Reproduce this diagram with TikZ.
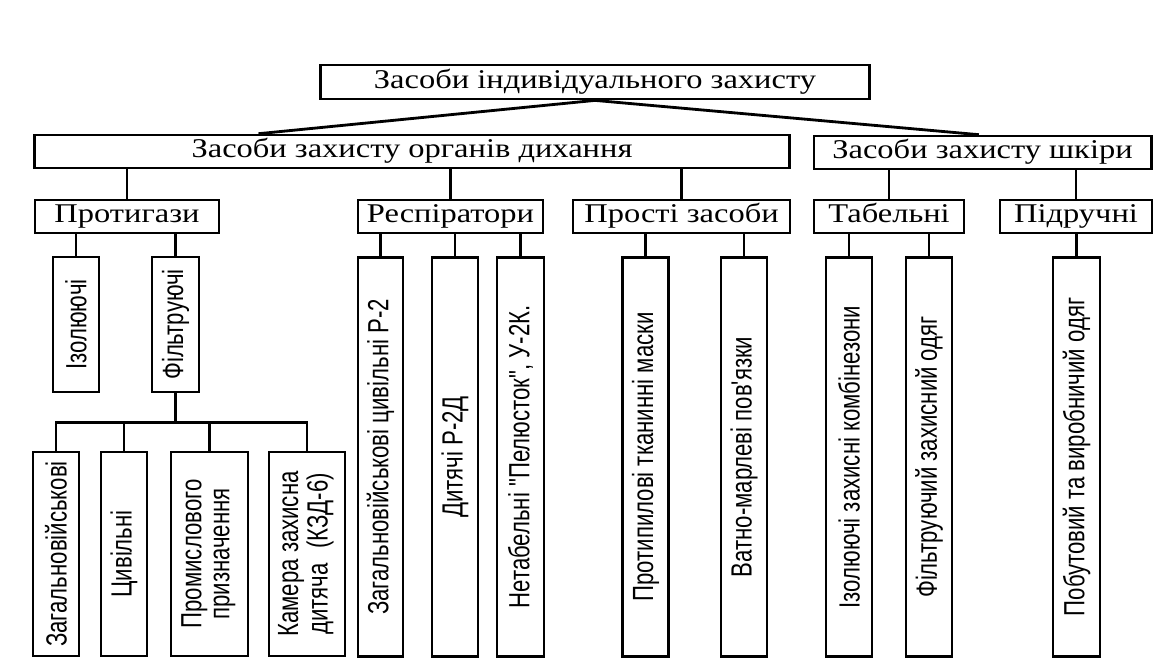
\documentclass[tikz,border=0pt]{standalone}
\usepackage{fontspec}
\setmainfont{Liberation Serif}[FakeStretch=1.2]
\newfontfamily\vertfont{Liberation Sans}[FakeStretch=0.76]
\usetikzlibrary{calc}
\tikzset{
  labelbox/.style={draw,line width=0.8pt,inner sep=0pt,minimum height=0.34cm,
    text height=0.19cm,text depth=0.06cm,font=\fontsize{7.7pt}{9pt}\selectfont},
  vertbox/.style={draw,line width=0.8pt,inner sep=0pt,minimum width=0.46cm,
    font=\vertfont\fontsize{8.3pt}{7.9pt}\selectfont},
  link/.style={line width=0.8pt}
}
\begin{document}
\begin{tikzpicture}[x=0.01cm,y=-0.01cm,line cap=rect]
\useasboundingbox (0,0) rectangle (1157,659);
% Верхній рівень і два основні класи засобів.
\node[labelbox,minimum width=5.48cm] (pzz) at (595,82) {Засоби індивідуального захисту};
\node[labelbox,minimum width=7.54cm,minimum height=0.33cm] (breath) at (412,151.5)
 {Засоби захисту органів дихання};
\node[labelbox,minimum width=3.37cm,minimum height=0.33cm] (skin) at (982.5,152.5)
 {Засоби захисту шкіри};
\draw[link] (pzz.south) -- ([xshift=-1.52cm]breath.north);
\draw[link] (pzz.south) -- ([xshift=-0.05cm]skin.north);
% Групи третього рівня.
\node[labelbox,minimum width=1.84cm,minimum height=0.33cm] (gas) at (127,216.5) {Протигази};
\node[labelbox,minimum width=1.85cm,minimum height=0.33cm] (resp) at (450.5,216.5) {Респіратори};
\node[labelbox,minimum width=2.17cm,minimum height=0.33cm] (simple) at (681.5,216.5) {Прості засоби};
\node[labelbox,minimum width=1.50cm,minimum height=0.33cm] (kit) at (889,216.5) {Табельні};
\node[labelbox,minimum width=1.52cm,minimum height=0.33cm] (improv) at (1076,216.5) {Підручні};
% Протигази.
\node[vertbox,minimum height=1.35cm] (iso) at (76,324.5) {\rotatebox{90}{Ізолюючі}};
\node[vertbox,minimum width=0.47cm,minimum height=1.35cm] (filt) at (175.5,324.5)
 {\rotatebox{90}{Фільтруючі}};
\node[vertbox,minimum height=2.04cm] (f1) at (56,554) {\rotatebox{90}{Загальновійськові}};
\node[vertbox,minimum height=2.04cm] (f2) at (124,554) {\rotatebox{90}{Цивільні}};
\node[vertbox,minimum width=0.77cm,minimum height=2.04cm] (f3) at (209.5,554)
 {\rotatebox{90}{\begin{tabular}{@{}c@{}}Промислового\\призначення\end{tabular}}};
\node[vertbox,minimum width=0.76cm,minimum height=2.04cm] (f4) at (307,554)
 {\rotatebox{90}{\begin{tabular}{@{}c@{}}Камера захисна\\дитяча\enspace(КЗД-6)\end{tabular}}};
% Респіратори, прості засоби, захист шкіри.
\node[vertbox,minimum width=0.45cm,minimum height=3.98cm] (r1) at (380.5,457)
 {\rotatebox{90}{Загальновійськові цивільні Р-2}};
\node[vertbox,minimum height=3.98cm] (r2) at (455,457) {\rotatebox{90}{Дитячі Р-2Д}};
\node[vertbox,minimum width=0.47cm,minimum height=3.98cm] (r3) at (520.5,457)
 {\rotatebox{90}{Нетабельні "Пелюсток", У-2К.}};
\node[vertbox,minimum height=3.98cm] (s1) at (645.5,457) {\rotatebox{90}{Протипилові тканинні маски}};
\node[vertbox,minimum height=3.98cm] (s2) at (744,457) {\rotatebox{90}{Ватно-марлеві пов'язки}};
\node[vertbox,minimum height=3.98cm] (k1) at (849,457) {\rotatebox{90}{Ізолюючі захисні комбінезони}};
\node[vertbox,minimum height=3.98cm] (k2) at (929,457) {\rotatebox{90}{Фільтруючий захисний одяг}};
\node[vertbox,minimum width=0.47cm,minimum height=3.98cm] (i1) at (1076.5,457)
 {\rotatebox{90}{Побутовий та виробничий одяг}};
% Вертикальні з'єднання.
\foreach \up/\down in {breath/gas,breath/resp,breath/simple,skin/kit,skin/improv,
  gas/iso,gas/filt,resp/r1,resp/r2,resp/r3,simple/s1,simple/s2,kit/k1,kit/k2,improv/i1}
  \draw[link] (\up.south -| \down.north) -- (\down.north);
\coordinate (bus) at ([yshift=-0.29cm]filt.south);
\draw[link] (filt.south) -- (bus);
\foreach \n in {f1,f2,f3,f4}
  \draw[link] (bus) -| (\n.north);
\end{tikzpicture}
\end{document}
